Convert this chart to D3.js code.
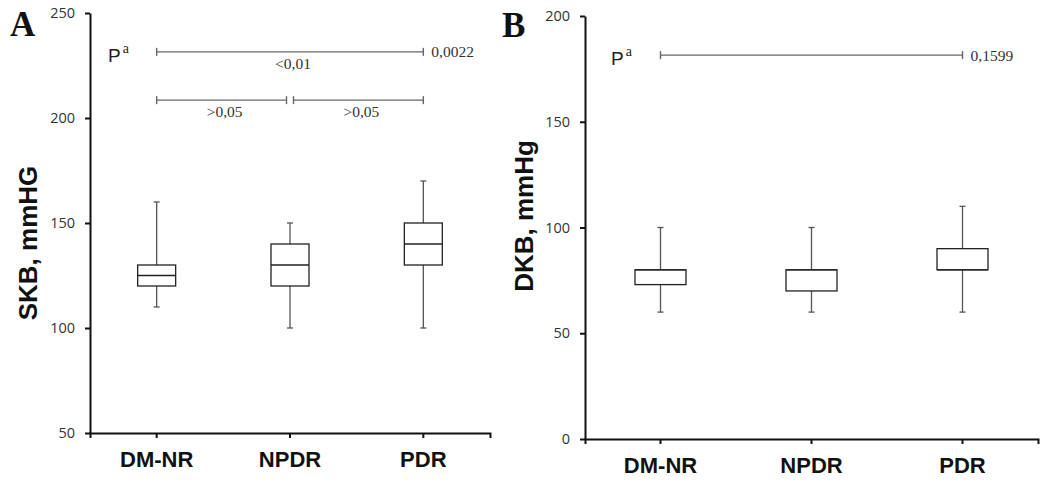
<!DOCTYPE html>
<html>
<head>
<meta charset="utf-8">
<script src="https://cdn.jsdelivr.net/npm/d3@7"></script>
<style>
  body { margin: 0; background: #fff; }
  svg { display: block; }
  .axis path, .axis line { stroke: #111; stroke-width: 2px; }
  .axis text { font-family: "Open Sans", sans-serif; font-size: 14.5px; fill: #333; }
  .xaxis text { font-family: "Liberation Sans", Arial, sans-serif; font-weight: bold; font-size: 22px; fill: #111; }
</style>
</head>
<body>
<div id="chart"></div>
<script>
const groups = ["DM-NR", "NPDR", "PDR"];

// panel A: systolic
const skbLow = [110, 100, 100];
const skbQ1 = [120, 120, 130];
const skbMedian = [125, 130, 140];
const skbQ3 = [130, 140, 150];
const skbHigh = [160, 150, 170];
const skbTicks = [50, 100, 150, 200, 250];
const skbBars = [
  { from: 0, to: 2, level: 231.5, below: "<0,01", right: "0,0022" },
  { from: 0, to: 1, level: 208.5, below: ">0,05" },
  { from: 1, to: 2, level: 208.5, below: ">0,05" }
];

// panel B: diastolic
const dkbLow = [60, 60, 60];
const dkbQ1 = [73, 70, 80];
const dkbMedian = [80, 80, 80];
const dkbQ3 = [80, 80, 90];
const dkbHigh = [100, 100, 110];
const dkbTicks = [0, 50, 100, 150, 200];
const dkbBars = [
  { from: 0, to: 2, level: 181.5, right: "0,1599" }
];

const width = 1044, height = 484;
const svg = d3.select("#chart").append("svg")
  .attr("width", width)
  .attr("height", height);

function drawPanel(opt) {
  const x = d3.scaleBand().domain(groups).range([opt.left, opt.right]);
  const y = d3.scaleLinear().domain(d3.extent(opt.ticks)).range([opt.bottom, opt.top]);
  const g = svg.append("g");

  const rows = groups.map((k, i) => ({
    key: k, low: opt.low[i], q1: opt.q1[i], med: opt.med[i], q3: opt.q3[i], high: opt.high[i]
  }));

  // whiskers
  const cap = 3;
  rows.forEach(d => {
    const cx = x(d.key) + x.bandwidth() / 2;
    const w = g.append("g").attr("stroke", "#555").attr("stroke-width", 1.3);
    w.append("line").attr("x1", cx).attr("x2", cx).attr("y1", y(d.high)).attr("y2", y(d.q3));
    w.append("line").attr("x1", cx).attr("x2", cx).attr("y1", y(d.q1)).attr("y2", y(d.low));
    w.append("line").attr("x1", cx - cap).attr("x2", cx + cap).attr("y1", y(d.high)).attr("y2", y(d.high));
    w.append("line").attr("x1", cx - cap).attr("x2", cx + cap).attr("y1", y(d.low)).attr("y2", y(d.low));
  });

  // boxes
  g.selectAll("rect.box").data(rows).join("rect")
    .attr("class", "box")
    .attr("x", d => x(d.key) + x.bandwidth() / 2 - opt.boxW / 2)
    .attr("width", opt.boxW)
    .attr("y", d => y(d.q3))
    .attr("height", d => y(d.q1) - y(d.q3))
    .attr("fill", "#fff")
    .attr("stroke", "#222")
    .attr("stroke-width", 1.3);

  g.selectAll("line.med").data(rows).join("line")
    .attr("class", "med")
    .attr("x1", d => x(d.key) + x.bandwidth() / 2 - opt.boxW / 2)
    .attr("x2", d => x(d.key) + x.bandwidth() / 2 + opt.boxW / 2)
    .attr("y1", d => y(d.med)).attr("y2", d => y(d.med))
    .attr("stroke", "#222").attr("stroke-width", 1.3);

  // significance bars
  const mid = k => x(k) + x.bandwidth() / 2;
  const capH = 4;
  opt.bars.forEach(b => {
    let x1 = mid(groups[b.from]), x2 = mid(groups[b.to]);
    if (b.to - b.from === 1) {
      if (b.from === 1) x1 += 3.5;
      if (b.to === 1) x2 -= 3.5;
    }
    const yy = y(b.level);
    const s = g.append("g").attr("stroke", "#666").attr("stroke-width", 1.4);
    s.append("line").attr("x1", x1).attr("x2", x2).attr("y1", yy).attr("y2", yy);
    s.append("line").attr("x1", x1).attr("x2", x1).attr("y1", yy - capH).attr("y2", yy + capH);
    s.append("line").attr("x1", x2).attr("x2", x2).attr("y1", yy - capH).attr("y2", yy + capH);
    if (b.below) {
      g.append("text").attr("x", (x1 + x2) / 2 + 3).attr("y", yy + 17)
        .attr("text-anchor", "middle")
        .style("font-family", "'Liberation Serif', serif").style("font-size", "15.5px").attr("fill", "#333")
        .text(b.below);
    }
    if (b.right) {
      g.append("text").attr("x", x2 + 8).attr("y", yy + 5.5)
        .style("font-family", "'Liberation Serif', serif").style("font-size", "15.5px").attr("fill", "#333")
        .text(b.right);
    }
    if (b.from === 0 && b.to === 2) {
      const p = g.append("text").attr("x", opt.pX).attr("y", yy + 10)
        .style("font-family", "'Liberation Sans', Arial, sans-serif").style("font-size", "19px").attr("fill", "#222");
      p.append("tspan").text("P");
      p.append("tspan").attr("dx", 2).attr("dy", -9)
        .style("font-family", "'Liberation Serif', serif").style("font-size", "14px").text("a");
    }
  });

  // axes
  g.append("g").attr("class", "axis")
    .attr("transform", `translate(${opt.left},0)`)
    .call(d3.axisLeft(y).tickValues(opt.ticks).tickSize(5).tickSizeOuter(0).tickPadding(10));

  g.append("g").attr("class", "axis xaxis")
    .attr("transform", `translate(0,${opt.bottom})`)
    .call(d3.axisBottom(x).tickSize(5).tickSizeOuter(5).tickPadding(13));

  // y title
  g.append("text")
    .attr("transform", `translate(${opt.titleX},${opt.titleY}) rotate(-90)`)
    .attr("text-anchor", "middle")
    .style("font-family", "'Liberation Sans', Arial, sans-serif")
    .style("font-weight", "bold").style("font-size", "26px").attr("fill", "#111")
    .text(opt.title);

  // panel letter
  g.append("text").attr("x", opt.letterX).attr("y", opt.letterY)
    .style("font-family", "'Liberation Serif', serif").style("font-weight", "bold")
    .style("font-size", "35px").attr("fill", "#111")
    .text(opt.letter);
}

drawPanel({
  left: 90, right: 490, top: 13, bottom: 433, boxW: 38,
  ticks: skbTicks, low: skbLow, q1: skbQ1, med: skbMedian, q3: skbQ3, high: skbHigh,
  bars: skbBars, pX: 108,
  title: "SKB, mmHG", titleX: 37, titleY: 243,
  letter: "A", letterX: 10, letterY: 36
});

drawPanel({
  left: 585, right: 1038, top: 16, bottom: 439, boxW: 51,
  ticks: dkbTicks, low: dkbLow, q1: dkbQ1, med: dkbMedian, q3: dkbQ3, high: dkbHigh,
  bars: dkbBars, pX: 611,
  title: "DKB, mmHg", titleX: 533, titleY: 216,
  letter: "B", letterX: 502, letterY: 37
});
</script>
</body>
</html>
